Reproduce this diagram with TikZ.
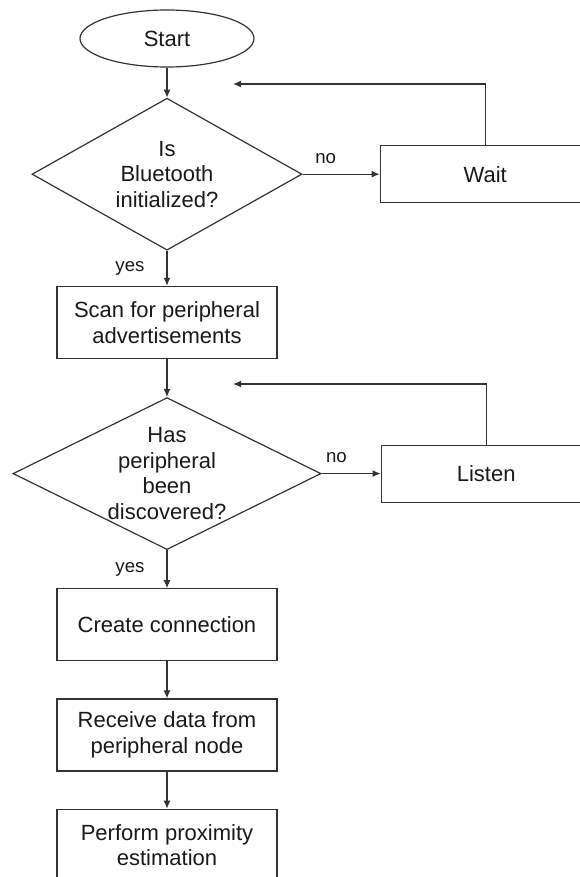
\documentclass[tikz,border=0pt]{standalone}
\usepackage{fontspec}
\setmainfont{Liberation Sans}
\usetikzlibrary{shapes.geometric, arrows.meta, positioning}
\newcommand{\flowfont}{\fontsize{11}{12.75}\selectfont}
\newcommand{\labelfont}{\fontsize{9.3}{11}\selectfont}
\tikzset{
  box/.style={rectangle, draw=black!80, line width=0.6pt, text=black!90,
              minimum width=#1, minimum height=36pt, align=center,
              inner sep=2pt, font=\flowfont},
  box/.default=110pt,
  smallbox/.style={box=105pt, minimum height=28.5pt},
  decision/.style={diamond, draw=black!80, line width=0.6pt, text=black!90,
                   aspect=1.8, inner sep=0pt, minimum width=#1,
                   minimum height=76pt, align=center, font=\flowfont},
  decision/.default=135pt,
  terminal/.style={ellipse, draw=black!80, line width=0.6pt, text=black!90,
                   minimum width=87pt, minimum height=28.5pt, font=\flowfont},
  arrow/.style={-{Latex[length=4pt,width=3.5pt]}, draw=black!80, line width=0.6pt},
  label/.style={font=\labelfont, text=black!90, inner sep=1pt},
}

\begin{document}
\begin{tikzpicture}[x=0.5pt, y=-0.5pt]

\useasboundingbox (0,0) rectangle (579,877);

% ── Start and Bluetooth check ─────────────────────────────────────────────────
\node[terminal] (start) at (167,38.5) {Start};
\node[decision=135pt, below=15pt of start] (init)
  {Is\\Bluetooth\\initialized?};
\node[smallbox, right=38.5pt of init] (wait) {Wait};

% ── Scanning ──────────────────────────────────────────────────────────────────
\node[box, below=17.5pt of init] (scan)
  {Scan for peripheral\\advertisements};
\node[decision=154pt, aspect=2, inner ysep=-6pt, below=19pt of scan] (found)
  {Has\\peripheral\\been\\discovered?};
\node[smallbox, right=29.5pt of found] (listen) {Listen};

% ── Connection and estimation ─────────────────────────────────────────────────
\node[box, below=19pt of found] (connect) {Create connection};
\node[box, below=18.5pt of connect] (receive)
  {Receive data from\\peripheral node};
\node[box, below=18.5pt of receive] (estimate)
  {Perform proximity\\estimation};

% ── Loop-back ends ────────────────────────────────────────────────────────────
\coordinate (waitback) at (233,84);
\coordinate (listenback) at (233,384);

% ── Arrows: main flow ─────────────────────────────────────────────────────────
\draw[arrow] (start) -- (init);
\draw[arrow] (init) -- node[label, midway, left=10pt] (yes1) {yes} (scan);
\draw[arrow] (scan) -- (found);
\draw[arrow] (found) -- node[label, midway, left=10pt] (yes2) {yes} (connect);
\draw[arrow] (connect) -- (receive);
\draw[arrow] (receive) -- (estimate);

% ── Arrows: no branches and loops ─────────────────────────────────────────────
\draw[arrow] (init) -- node[label, pos=0.3, above=4pt] (no1) {no} (wait);
\draw[arrow] (wait.north) |- (waitback);
\draw[arrow] (found) -- node[label, pos=0.25, above=4pt] (no2) {no} (listen);
\draw[arrow] (listen.north) |- (listenback);

\end{tikzpicture}
\end{document}
